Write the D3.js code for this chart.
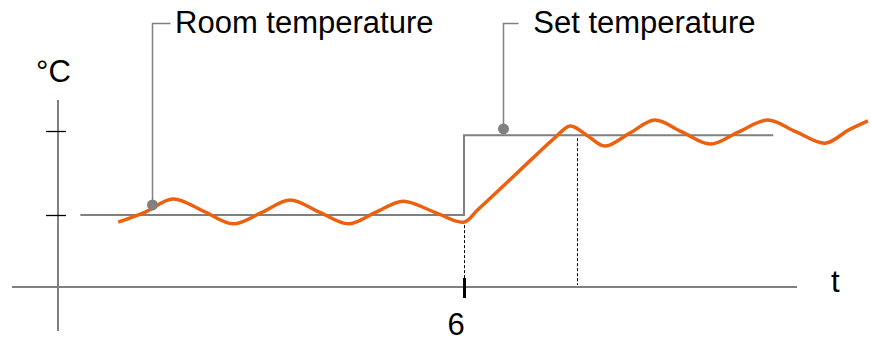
<!DOCTYPE html>
<html>
<head>
<meta charset="utf-8">
<script src="https://cdn.jsdelivr.net/npm/d3@7"></script>
<style>
body { margin: 0; background: #fff; }
text { font-family: "Liberation Sans", Arial, sans-serif; fill: #000; }
</style>
</head>
<body>
<div id="chart"></div>
<script>
// room temperature curve (time, °C)
var roomTime = [0.89, 1.29, 1.70, 2.14, 2.59, 3.02, 3.43, 3.86, 4.29, 4.70, 5.10, 5.56, 6.00,
                6.20, 6.60, 7.00, 7.35, 7.57, 7.83, 8.08, 8.45, 8.82, 9.22, 9.64, 10.06, 10.49, 10.91, 11.34, 11.68, 11.97];
var roomTemp = [19.83, 20.07, 20.38, 20.10, 19.79, 20.07, 20.36, 20.07, 19.79, 20.07, 20.33, 20.07, 19.83,
                20.12, 20.72, 21.33, 21.85, 22.12, 21.88, 21.64, 21.95, 22.26, 21.98, 21.69, 21.98, 22.26, 21.98, 21.71, 22.02, 22.24];

// set temperature step
var setTime = [0.33, 6, 6, 10.57];
var setTemp = [20, 20, 21.9, 21.9];

var yTicks = [20, 22];
var xTicks = [6];
var xTickLabels = ["6"];
var reachTime = 7.67;

var calloutText = ["Room temperature", "Set temperature"];
var calloutTime = [1.39, 6.58];
var calloutTemp = [20.24, 22.05];

var width = 871, height = 342;
var gray = "#808080", orange = "#eb610f";

// leader elbow length and text gap for each callout
var leaderArm = [18, 15];
var textGap = [23, 30];

var svg = d3.select("#chart").append("svg")
    .attr("width", width)
    .attr("height", height);

var x = d3.scaleLinear().domain([0, 12]).range([58, 870]);
var y = d3.scaleLinear().domain([20, 22]).range([215, 131]);
var axisY = 287;

// axes
svg.append("line")
    .attr("x1", 12).attr("x2", 797)
    .attr("y1", axisY).attr("y2", axisY)
    .attr("stroke", gray).attr("stroke-width", 2);

svg.append("line")
    .attr("x1", x(0)).attr("x2", x(0))
    .attr("y1", 100).attr("y2", 331)
    .attr("stroke", gray).attr("stroke-width", 2);

svg.selectAll(".ytick")
    .data(yTicks)
    .enter()
    .append("line")
    .attr("class", "ytick")
    .attr("x1", x(0) - 12).attr("x2", x(0) + 8)
    .attr("y1", function(d) { return Math.round(y(d)) + 0.5; })
    .attr("y2", function(d) { return Math.round(y(d)) + 0.5; })
    .attr("stroke", "#000").attr("stroke-width", 1.3);

svg.selectAll(".xtick")
    .data(xTicks)
    .enter()
    .append("line")
    .attr("class", "xtick")
    .attr("x1", function(d) { return Math.round(x(d)) + 0.5; })
    .attr("x2", function(d) { return Math.round(x(d)) + 0.5; })
    .attr("y1", axisY - 9).attr("y2", axisY + 11)
    .attr("stroke", "#000").attr("stroke-width", 3);

svg.selectAll(".xlabel")
    .data(xTicks)
    .enter()
    .append("text")
    .attr("class", "xlabel")
    .attr("x", function(d) { return x(d) - 8; })
    .attr("y", 335)
    .attr("text-anchor", "middle")
    .attr("font-size", 31)
    .text(function(d, i) { return xTickLabels[i]; });

svg.append("text")
    .attr("x", 36).attr("y", 82)
    .attr("font-size", 31)
    .text("°C");

svg.append("text")
    .attr("x", 831).attr("y", 292)
    .attr("font-size", 31)
    .text("t");

// dashed guides
var dashes = [
    {t: 6, from: roomTemp[12]},
    {t: reachTime, from: setTemp[3]}
];
svg.selectAll(".guide")
    .data(dashes)
    .enter()
    .append("line")
    .attr("class", "guide")
    .attr("x1", function(d) { return Math.round(x(d.t)) + 0.5; })
    .attr("x2", function(d) { return Math.round(x(d.t)) + 0.5; })
    .attr("y1", function(d) { return y(d.from) + 3; })
    .attr("y2", axisY - 2)
    .attr("stroke", "#000")
    .attr("stroke-width", 1)
    .attr("stroke-dasharray", "3,2");

// set temperature line
var setLine = d3.line()
    .x(function(d, i) { return x(setTime[i]); })
    .y(function(d) { return y(d); });

svg.append("path")
    .attr("d", setLine(setTemp))
    .attr("fill", "none")
    .attr("stroke", gray)
    .attr("stroke-width", 2);

// room temperature curve
var roomLine = d3.line()
    .x(function(d, i) { return x(roomTime[i]); })
    .y(function(d) { return y(d); })
    .curve(d3.curveCatmullRom.alpha(0.5));

svg.append("path")
    .attr("d", roomLine(roomTemp))
    .attr("fill", "none")
    .attr("stroke", orange)
    .attr("stroke-width", 3.5);

// callouts
var callouts = svg.selectAll(".callout")
    .data(calloutText)
    .enter()
    .append("g")
    .attr("class", "callout");

callouts.append("path")
    .attr("d", function(d, i) {
        var cx = Math.round(x(calloutTime[i])) + 0.5, cy = y(calloutTemp[i]);
        return "M" + cx + "," + cy + "V23.5H" + (cx + leaderArm[i]);
    })
    .attr("fill", "none")
    .attr("stroke", gray)
    .attr("stroke-width", 1.5);

callouts.append("circle")
    .attr("cx", function(d, i) { return Math.round(x(calloutTime[i])) + 0.5; })
    .attr("cy", function(d, i) { return y(calloutTemp[i]); })
    .attr("r", 5.5)
    .attr("fill", gray);

callouts.append("text")
    .attr("x", function(d, i) { return x(calloutTime[i]) + textGap[i]; })
    .attr("y", 33)
    .attr("font-size", 31)
    .text(function(d) { return d; });
</script>
</body>
</html>
